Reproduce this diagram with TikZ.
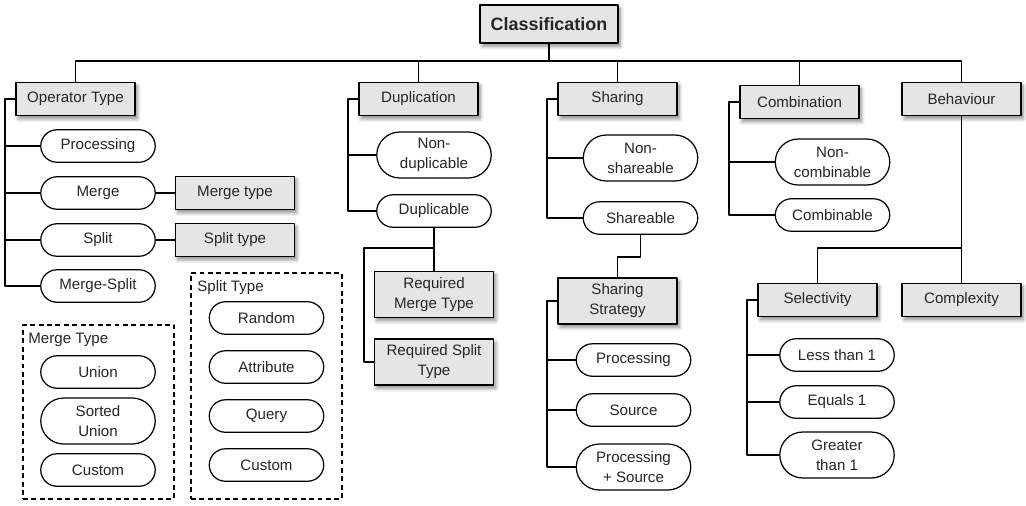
\documentclass[tikz,border=0pt]{standalone}
\usepackage{fontspec}
\setmainfont{Liberation Sans}
\usetikzlibrary{shapes.misc,shadows.blur,positioning}
\begin{document}
\begin{tikzpicture}[x=0.02cm,y=-0.02cm,line join=round,line width=0.7pt,
    every node/.style={font=\fontsize{8.6}{11.4}\selectfont,align=center,text=black!85,inner sep=1pt},
    catbox/.style={draw,line width=0.9pt,fill=black!10,minimum width=2.38cm,minimum height=0.66cm,
      blur shadow={shadow xshift=1.3pt,shadow yshift=-1.9pt,shadow blur steps=6,shadow opacity=45}},
    valpill/.style={draw,fill=white,rounded rectangle,minimum width=2.36cm,minimum height=0.65cm},
    tall/.style={minimum height=0.92cm},
    grpbox/.style={draw,dash pattern=on 2.8pt off 2pt,line width=0.7pt}]
\useasboundingbox (0,0) rectangle (1026,505);

\node[catbox,minimum width=2.76cm,minimum height=0.76cm,font=\fontsize{10.2}{12}\selectfont\bfseries] (class) at (549,24) {Classification};

\node[catbox] (optype) at (75.5,99) {Operator Type};
\node[valpill] (proc) at (98,146) {Processing};
\node[valpill] (merge) at (98,193) {Merge};
\node[valpill] (split) at (98,240) {Split};
\node[valpill] (mrgsplit) at (98,286) {Merge-Split};
\node[catbox] (mtype) at (235,193) {Merge type};
\node[catbox] (stype) at (235,240) {Split type};

\node[grpbox,minimum width=3.02cm,minimum height=3.48cm] (mgrp) at (98.5,412) {};
\node[anchor=west] (mgrptitle) at (26,340) {Merge Type};
\node[valpill] (union) at (98,372) {Union};
\node[valpill,tall] (sunion) at (98,421) {Sorted\\Union};
\node[valpill] (mcustom) at (98,470) {Custom};

\node[grpbox,minimum width=3.02cm,minimum height=4.52cm] (sgrp) at (266.5,386) {};
\node[anchor=west] (sgrptitle) at (195,288) {Split Type};
\node[valpill] (random) at (266.5,318) {Random};
\node[valpill] (attr) at (266.5,367) {Attribute};
\node[valpill] (query) at (266.5,416) {Query};
\node[valpill] (scustom) at (266.5,465) {Custom};

\node[catbox] (dup) at (418.5,99) {Duplication};
\node[valpill,tall] (nondup) at (434,155) {Non-\\duplicable};
\node[valpill] (dupl) at (434,211) {Duplicable};
\node[catbox,tall] (reqm) at (434,294.5) {Required\\Merge Type};
\node[catbox,tall] (reqs) at (434,362) {Required Split\\Type};

\node[catbox] (share) at (617.5,99) {Sharing};
\node[valpill,tall] (nonshare) at (640.5,158) {Non-\\shareable};
\node[valpill] (shareable) at (640.5,218) {Shareable};
\node[catbox,tall] (strat) at (617.5,301) {Sharing\\Strategy};
\node[valpill] (sproc) at (633.5,360) {Processing};
\node[valpill] (ssrc) at (633.5,410) {Source};
\node[valpill,tall] (sps) at (633.5,467) {Processing\\+ Source};

\node[catbox] (comb) at (799.5,102) {Combination};
\node[valpill,tall] (noncomb) at (832.5,162) {Non-\\combinable};
\node[valpill] (combable) at (832.5,215) {Combinable};

\node[catbox] (behav) at (961.5,99) {Behaviour};
\node[catbox] (sel) at (817.5,300) {Selectivity};
\node[catbox] (cplx) at (961.5,300) {Complexity};
\node[valpill] (less) at (837,355) {Less than 1};
\node[valpill] (eq) at (837,402) {Equals 1};
\node[valpill,tall] (great) at (837,455) {Greater\\than 1};

  \coordinate (bus) at (549,61);
  \coordinate (optrunk) at (5,99);
  \coordinate (duptrunk) at (348,99);
  \coordinate (dupjoin) at (434,248);
  \coordinate (reqtrunk) at (364,248);
  \coordinate (sharetrunk) at (547,99);
  \coordinate (sharejoin) at (640.5,257);
  \coordinate (strattrunk) at (547,301);
  \coordinate (combtrunk) at (729,102);
  \coordinate (behavjoin) at (961.5,248);
  \coordinate (seltrunk) at (747,300);

\draw (class.south) -- (bus);
\draw (optype.north) |- (behav.north |- bus) -- (behav.north);
\foreach \n in {dup,share,comb} \draw (\n.north) -- (\n.north |- bus);

\draw (optype.west) -- (optrunk) |- (mrgsplit.west);
\foreach \n in {proc,merge,split} \draw (\n.west) -- (\n.west -| optrunk);
\draw (merge.east) -- (mtype.west);
\draw (split.east) -- (stype.west);

\draw (dup.west) -- (duptrunk) |- (dupl.west);
\draw (nondup.west) -- (nondup.west -| duptrunk);
\draw (dupl.south) -- (reqm.north);
\draw (dupjoin) -- (reqtrunk) |- (reqs.west);

\draw (share.west) -- (sharetrunk) |- (shareable.west);
\draw (nonshare.west) -- (nonshare.west -| sharetrunk);
\draw (shareable.south) -- (sharejoin) -| (strat.north);
\draw (strat.west) -- (strattrunk) |- (sps.west);
\foreach \n in {sproc,ssrc} \draw (\n.west) -- (\n.west -| strattrunk);

\draw (comb.west) -- (combtrunk) |- (combable.west);
\draw (noncomb.west) -- (noncomb.west -| combtrunk);

\draw (behav.south) -- (cplx.north);
\draw (behavjoin) -| (sel.north);
\draw (sel.west) -- (seltrunk) |- (great.west);
\foreach \n in {less,eq} \draw (\n.west) -- (\n.west -| seltrunk);
\end{tikzpicture}
\end{document}
